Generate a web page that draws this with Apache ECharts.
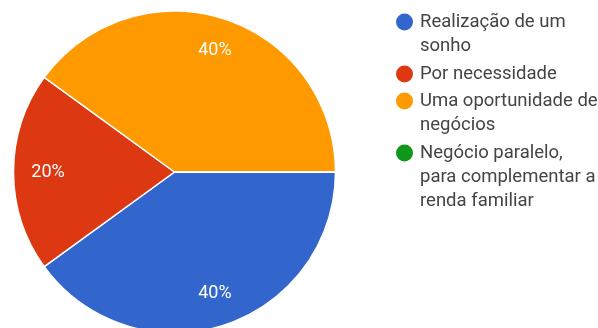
<!DOCTYPE html>
<html>
<head>
<meta charset="utf-8">
<script src="https://cdn.jsdelivr.net/npm/echarts@6/dist/echarts.min.js"></script>
<style>
  html, body { margin: 0; padding: 0; background: #fff; }
  #chart { width: 598px; height: 328px; }
</style>
</head>
<body>
<div id="chart"></div>
<script>
// Answer options (legend text, with line breaks as wrapped)
const categories = [
  'Realização de um\nsonho',
  'Por necessidade',
  'Uma oportunidade de\nnegócios',
  'Negócio paralelo,\npara complementar a\nrenda familiar'
];
// Share of responses per option (%)
const values = [40, 20, 40, 0];
const colors = ['#3366cc', '#dc3912', '#ff9900', '#109618'];

const legendIconY = [22, 74, 101, 153];
const LINE_H = 24;
const ICON = 17;
const CENTER = [174.5, 172];
const RADIUS = 161;

const pieData = categories.map((name, i) => ({
  name: name,
  value: values[i],
  itemStyle: { color: colors[i] }
}));

// One legend block per option; empty lines are prepended so the first text
// line lines up with the round marker (legend text is centred on the icon).
const legends = categories.map((name, i) => {
  const lines = name.split('\n').length;
  return {
    data: [name],
    orient: 'vertical',
    left: 396,
    top: legendIconY[i] - (2 * lines - 1) * LINE_H / 2,
    padding: 0,
    icon: 'circle',
    itemWidth: ICON,
    itemHeight: ICON,
    selectedMode: false,
    itemStyle: { borderWidth: 0 },
    formatter: n => '\n'.repeat(lines - 1) + n,
    textStyle: {
      fontFamily: 'Roboto',
      fontSize: 18.5,
      color: '#444',
      lineHeight: LINE_H,
      backgroundColor: 'rgba(0,0,0,0)',
      padding: [0, 0, 0, 2]
    }
  };
});

const chart = echarts.init(document.getElementById('chart'), null, { renderer: 'canvas' });
chart.setOption({
  animation: false,
  legend: legends,
  series: [
    {
      type: 'pie',
      center: CENTER,
      radius: [0, RADIUS],
      startAngle: 0,
      clockwise: true,
      silent: true,
      label: { show: false },
      labelLine: { show: false },
      itemStyle: { borderColor: '#ffffff', borderWidth: 1.5 },
      data: pieData
    },
    {
      // percentage labels placed toward the rim
      type: 'pie',
      center: CENTER,
      radius: [88, RADIUS],
      startAngle: 0,
      clockwise: true,
      silent: true,
      itemStyle: { color: 'rgba(0,0,0,0)', borderWidth: 0 },
      label: {
        show: true,
        position: 'inside',
        fontFamily: 'Roboto',
        fontSize: 18,
        color: '#ffffff',
        padding: [5, 0, 0, 2],
        formatter: p => (p.value > 0 ? p.percent + '%' : '')
      },
      labelLine: { show: false },
      data: categories.map((name, i) => ({ name: name, value: values[i] }))
    }
  ]
});
</script>
</body>
</html>
